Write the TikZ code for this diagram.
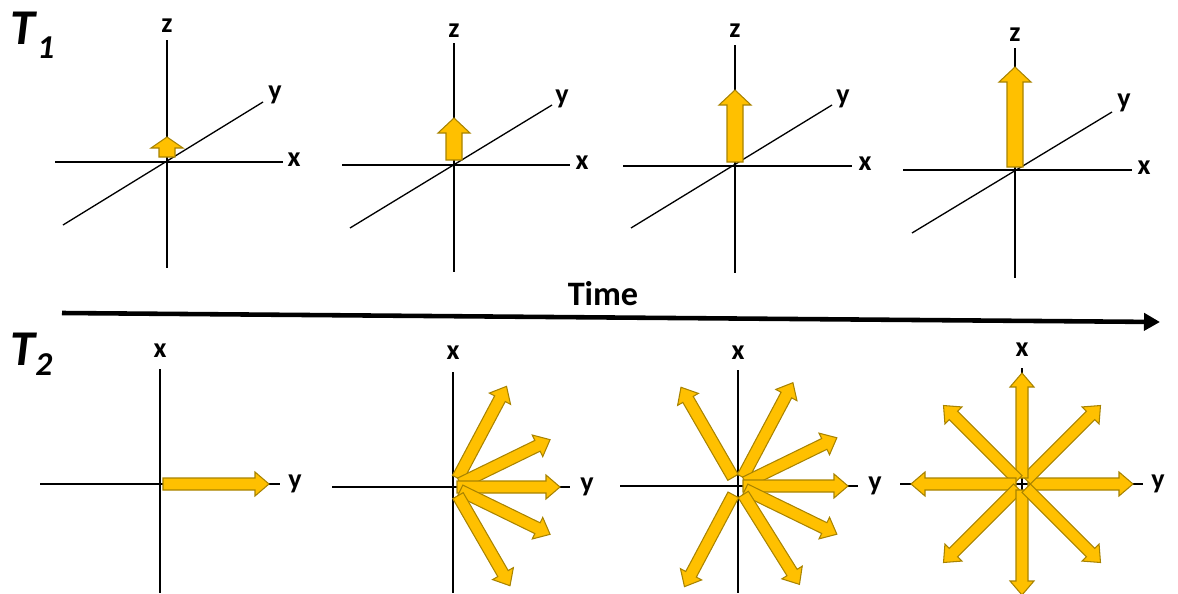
\documentclass[tikz,border=0pt]{standalone}
\usepackage{fontspec}
\setmainfont{Carlito}
\usetikzlibrary{arrows.meta}
\definecolor{gold}{HTML}{FFC000}
\definecolor{goldedge}{HTML}{A88300}
\definecolor{tdark}{HTML}{000000}

% fleche pleine : #1 origine, #2 angle, #3 depart, #4 pointe
\newcommand{\barrow}[4]{%
  \draw[blockarrow, shift={(#1)}, rotate=#2]
    (#3,-\aw) -- ({#4-\al},-\aw) -- ({#4-\al},-\ah) -- (#4,0)
    -- ({#4-\al},\ah) -- ({#4-\al},\aw) -- (#3,\aw) -- cycle;}

\begin{document}
\begin{tikzpicture}[
    x=0.02cm, y=0.02cm,
    axis/.style={draw=tdark, line width=0.75pt},
    blockarrow/.style={fill=gold, draw=goldedge, line width=0.6pt, line join=miter},
    timeline/.style={-{Triangle[length=0.32cm, width=0.34cm]}, line width=2.6pt, tdark},
    lbl/.style={font=\fontsize{16}{19}\selectfont\bfseries, text=tdark, inner sep=0pt, anchor=mid},
    tlbl/.style={font=\fontsize{28.5}{34}\selectfont\bfseries\itshape, inner sep=0pt, anchor=base west},
    tsub/.style={font=\fontsize{19}{23}\selectfont\bfseries\itshape, inner sep=0pt, anchor=base west}
  ]
  \useasboundingbox (0,0) rectangle (1178,593);

  % Etiquettes T1 / T2
  \node[tlbl] (T1)  at (10,548) {T};
  \node[tsub] (T1s) at (37,535) {1};
  \node[tlbl] (T2)  at (10,228) {T};
  \node[tsub] (T2s) at (35,218) {2};

  % Origines
  \coordinate (a1) at (167,431);
  \coordinate (a2) at (454,428);
  \coordinate (a3) at (735,427);
  \coordinate (a4) at (1015,423);
  \coordinate (b1) at (160,109);
  \coordinate (b2) at (453,106);
  \coordinate (b3) at (738,107);
  \coordinate (b4) at (1022,109);

  % Axes x, y, z (ligne du haut)
  \draw[axis] (167,553) -- (167,325);
  \draw[axis] (55,431) -- (283,431);
  \draw[axis] (63,368) -- (263,491);
  \node[lbl] (z1) at (167,565) {z};
  \node[lbl] (x1) at (294,431) {x};
  \node[lbl] (y1) at (275,498) {y};

  \draw[axis] (454,550) -- (454,321);
  \draw[axis] (342,428) -- (570,428);
  \draw[axis] (350,365) -- (552,488);
  \node[lbl] (z2) at (454,560) {z};
  \node[lbl] (x2) at (582,428) {x};
  \node[lbl] (y2) at (562,494) {y};

  \draw[axis] (735,548) -- (735,320);
  \draw[axis] (623,427) -- (852,427);
  \draw[axis] (631,365) -- (832,488);
  \node[lbl] (z3) at (735,560) {z};
  \node[lbl] (x3) at (865,427) {x};
  \node[lbl] (y3) at (843,494) {y};

  \draw[axis] (1015,545) -- (1015,315);
  \draw[axis] (903,423) -- (1132,423);
  \draw[axis] (912,360) -- (1112,481);
  \node[lbl] (z4) at (1015,556) {z};
  \node[lbl] (x4) at (1144,423) {x};
  \node[lbl] (y4) at (1124,490) {y};

  % Fleches le long de z
  \def\aw{8}\def\ah{16}\def\al{11}
  \barrow{a1}{90}{5}{25}
  \def\al{15}
  \barrow{a2}{90}{5}{47}
  \barrow{a3}{90}{4}{76}
  \barrow{a4}{90}{3}{103}

  % Axe du temps
  \coordinate (t0) at (62,280);
  \coordinate (t1) at (1160,271);
  \draw[timeline] (t0) -- (t1);
  \node[font=\fontsize{19.5}{23}\selectfont\bfseries, anchor=base, inner sep=0pt] (time) at (603,288) {Time};

  % Axes x, y (ligne du bas)
  \draw[axis] (160,224) -- (160,0);
  \draw[axis] (40,109) -- (280,109);
  \node[lbl] (bx1) at (160,240) {x};
  \node[lbl] (by1) at (295,109) {y};

  \draw[axis] (453,221) -- (453,0);
  \draw[axis] (332,106) -- (570,106);
  \node[lbl] (bx2) at (453,238) {x};
  \node[lbl] (by2) at (587,106) {y};

  \draw[axis] (738,223) -- (738,0);
  \draw[axis] (620,107) -- (858,107);
  \node[lbl] (bx3) at (738,238) {x};
  \node[lbl] (by3) at (875,107) {y};

  \draw[axis] (1022,225) -- (1022,0);
  \draw[axis] (900,109) -- (1143,109);
  \node[lbl] (bx4) at (1022,241) {x};
  \node[lbl] (by4) at (1158,109) {y};

  % Fleches dans le plan xy
  \def\aw{6}\def\ah{12}\def\al{14}
  \barrow{b1}{0}{3}{109}

  \barrow{b2}{62}{10}{114}
  \barrow{b2}{26}{8}{108}
  \barrow{b2}{0}{4}{107}
  \barrow{b2}{-26}{8}{108}
  \barrow{b2}{-60}{10}{114}

  \barrow{b3}{120}{10}{114}
  \barrow{b3}{62}{10}{117}
  \barrow{b3}{26}{8}{110}
  \barrow{b3}{0}{5}{110}
  \barrow{b3}{-26}{8}{110}
  \barrow{b3}{-58}{10}{116}
  \barrow{b3}{-118}{10}{114}

  \foreach \ang in {0,45,...,315}
    \barrow{b4}{\ang}{6}{111};

\end{tikzpicture}
\end{document}
